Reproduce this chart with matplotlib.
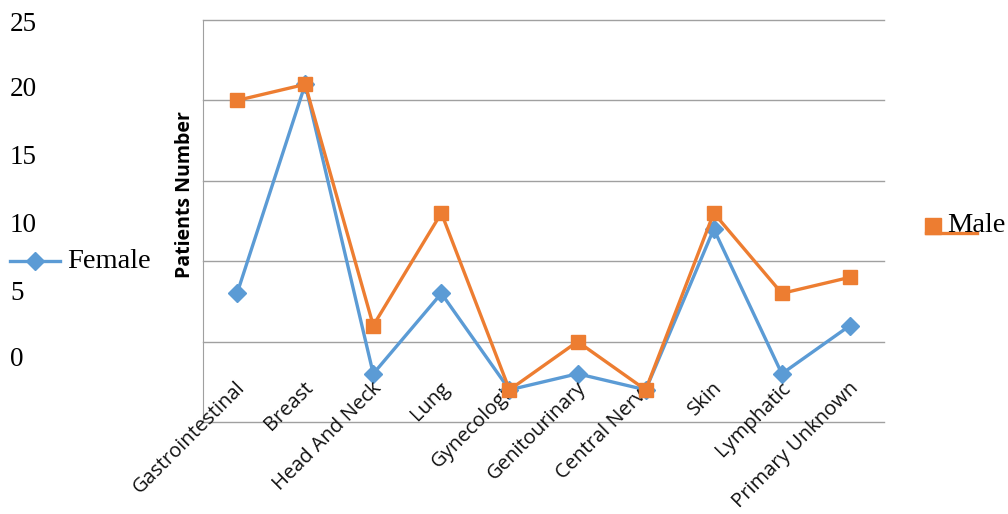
import matplotlib.pyplot as plt
from matplotlib.lines import Line2D

# Data
categories = ['Gastrointestinal', 'Breast', 'Head And Neck', 'Lung', 'Gynecologic',
              'Genitourinary', 'Central Nerve', 'Skin', 'Lymphatic', 'Primary Unknown']
female = [8, 21, 3, 8, 2, 3, 2, 12, 3, 6]
male = [20, 21, 6, 13, 2, 5, 2, 13, 8, 9]
ytick_labels = ['0', '5', '10', '15', '20', '25']

blue = '#5B9BD5'
orange = '#ED7D31'
grid_c = '#A0A0A0'

fig = plt.figure(figsize=(10.08, 5.14), dpi=100)
ax = fig.add_axes([0.2014, 0.179, 0.6756, 0.782])

x = list(range(len(categories)))
ax.plot(x, female, color=blue, lw=2.4, marker='D', ms=9, mec=blue, mfc=blue, zorder=3)
ax.plot(x, male, color=orange, lw=2.4, marker='s', ms=10, mec=orange, mfc=orange, zorder=4)

ax.set_xlim(-0.5, len(categories) - 0.5)
ax.set_ylim(0, 25)
for v in range(0, 26, 5):
    ax.axhline(v, color=grid_c, lw=1, zorder=1, clip_on=False)
ax.tick_params(left=False, bottom=False, labelleft=False, labelbottom=False)
for s in ['top', 'right', 'bottom']:
    ax.spines[s].set_visible(False)
ax.spines['left'].set_color(grid_c)

# category labels sit inside the plot, rotated
for i, c in enumerate(categories):
    ax.text(i + 0.08, 2.3, c, rotation=45, rotation_mode='anchor', ha='right', va='center',
            fontsize=14.5, family='Open Sans', color='#111111')

fig.text(185 / 1008, 1 - 195 / 514, 'Patients Number', rotation=90, ha='center', va='center',
         fontsize=14, fontweight='bold', family='Open Sans')

# offset value labels on the left, as in the reference
ylab_pos = [360, 293, 225, 158, 90, 24]
for lab, py in zip(ytick_labels, ylab_pos):
    fig.text(10 / 1008, 1 - py / 514, lab, fontsize=19.5, family='Liberation Serif',
             ha='left', va='center')

# legend entries
fy = 1 - 261 / 514
fig.add_artist(Line2D([10 / 1008, 60 / 1008], [fy, fy], color=blue, lw=2.4,
                      transform=fig.transFigure))
fig.add_artist(Line2D([35 / 1008], [fy], color=blue, marker='D', ms=9,
                      transform=fig.transFigure))
fig.text(67 / 1008, fy, 'Female', fontsize=20.5, family='Liberation Serif', ha='left', va='center')

my = 1 - 233 / 514
fig.add_artist(Line2D([926 / 1008, 977 / 1008], [my, my], color=orange, lw=2.4,
                      transform=fig.transFigure))
fig.add_artist(Line2D([933 / 1008], [1 - 226 / 514], color=orange, marker='s', ms=11,
                      lw=0, transform=fig.transFigure))
fig.text(947 / 1008, 1 - 226 / 514, 'Male', fontsize=20.5, family='Liberation Serif',
         ha='left', va='center')

fig.savefig('out.png', dpi=100)
